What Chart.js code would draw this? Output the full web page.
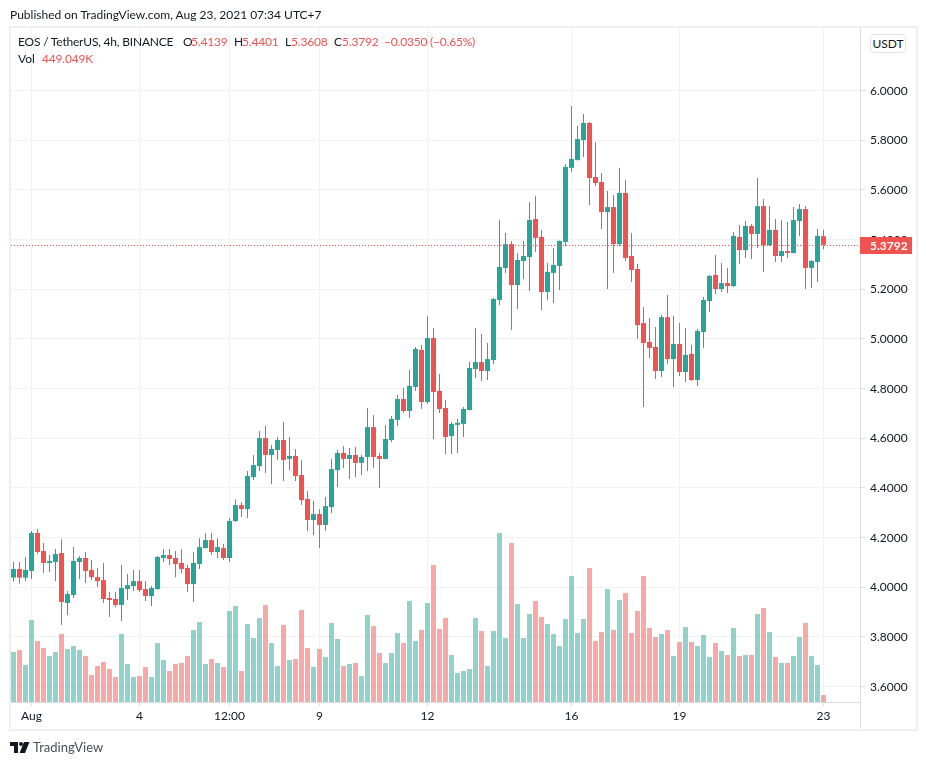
<!DOCTYPE html>
<html>
<head>
<meta charset="utf-8">
<title>EOS / TetherUS</title>
<script src="https://cdn.jsdelivr.net/npm/chart.js@4"></script>
<style>
  html,body{margin:0;padding:0;background:#fff;}
  body{width:926px;height:765px;overflow:hidden;position:relative;font-family:Lato,sans-serif;font-size:12px;color:#131722;}
  canvas{position:absolute;left:0;top:0;}
  .t{position:absolute;white-space:nowrap;line-height:16px;}
  .s{letter-spacing:-.2px;}
  .r{color:#ef5350;letter-spacing:-.2px;}
  #frame{position:absolute;left:9px;top:26px;width:905px;height:701px;border:2px solid #eeeef3;}
  #axisline{position:absolute;left:860px;top:702px;width:1px;height:27px;background:#dcdde2;}
  #usdt{position:absolute;left:870px;top:34px;width:34px;height:17px;line-height:17px;text-align:center;border:1px solid #e0e3eb;border-radius:4px;background:#fff;}
</style>
</head>
<body>
<canvas id="c" width="926" height="765"></canvas>
<div id="frame"></div>
<div id="axisline"></div>
<div id="usdt">USDT</div>
<div class="t" style="left:10px;top:7px">Published on TradingView.com, Aug 23, 2021 07:34 UTC+7</div>
<div class="t s" style="left:18px;top:34px">EOS / TetherUS, 4h, BINANCE</div>
<div class="t" style="left:183px;top:34px">O</div><div class="t r" style="left:191px;top:34px">5.4139</div>
<div class="t" style="left:234px;top:34px">H</div><div class="t r" style="left:242px;top:34px">5.4401</div>
<div class="t" style="left:285px;top:34px">L</div><div class="t r" style="left:291px;top:34px">5.3608</div>
<div class="t" style="left:334px;top:34px">C</div><div class="t r" style="left:342px;top:34px">5.3792</div>
<div class="t r" style="left:384px;top:34px">−0.0350</div>
<div class="t r" style="left:430px;top:34px">(−0.65%)</div>
<div class="t" style="left:18px;top:51px">Vol</div><div class="t r" style="left:42px;top:51px">449.049K</div>
<svg style="position:absolute;left:10px;top:742px" width="20" height="11" viewBox="0 0 20 11">
  <path d="M0 0H8V11H4V4H0Z" fill="#131722"/><circle cx="11" cy="2" r="2" fill="#131722"/><path d="M14 0H19.5L15 11H9.5Z" fill="#131722"/>
</svg>
<div class="t" style="left:33px;top:738px;font-size:13px;line-height:18px;color:#4a4e5a">TradingView</div>
<script>
// EOS/USDT 4h, 1 Aug -> 23 Aug 2021
const opens = [4.039,4.074,4.039,4.066,4.219,4.146,4.098,4.102,4.138,3.937,
  3.969,4.102,4.118,4.070,4.041,4.029,3.957,3.953,3.929,3.993,
  4.005,4.025,3.993,3.965,3.993,4.118,4.130,4.118,4.098,4.078,
  4.013,4.094,4.158,4.190,4.142,4.158,4.118,4.267,4.331,4.315,
  4.444,4.488,4.601,4.533,4.553,4.593,4.517,4.529,4.452,4.356,
  4.271,4.295,4.251,4.323,4.472,4.541,4.517,4.533,4.501,4.525,
  4.645,4.529,4.517,4.593,4.674,4.758,4.710,4.807,4.956,4.746,
  5.004,4.791,4.722,4.609,4.654,4.658,4.714,4.879,4.907,4.871,
  4.915,5.157,5.286,5.382,5.217,5.314,5.330,5.483,5.411,5.189,
  5.266,5.294,5.391,5.689,5.721,5.801,5.870,5.652,5.632,5.511,
  5.531,5.382,5.588,5.334,5.282,5.064,4.988,4.968,4.871,5.088,
  4.919,4.980,4.867,4.940,4.835,5.028,5.153,5.258,5.201,5.225,
  5.213,5.411,5.358,5.455,5.423,5.535,5.378,5.439,5.334,5.354,
  5.346,5.475,5.523,5.286,5.310,5.4139];
const highs = [4.102,4.102,4.122,4.227,4.235,4.178,4.130,4.154,4.194,3.985,
  4.162,4.126,4.142,4.110,4.078,4.098,3.981,3.981,4.090,4.054,
  4.070,4.070,4.025,4.005,4.126,4.154,4.154,4.146,4.154,4.090,
  4.142,4.198,4.219,4.219,4.198,4.174,4.279,4.355,4.343,4.468,
  4.533,4.629,4.650,4.573,4.605,4.666,4.605,4.557,4.513,4.388,
  4.348,4.315,4.364,4.517,4.553,4.569,4.561,4.565,4.533,4.722,
  4.694,4.541,4.653,4.690,4.774,4.803,4.875,4.968,4.976,5.092,
  5.044,4.859,4.754,4.666,4.678,4.726,4.907,5.044,5.020,4.984,
  5.165,5.479,5.427,5.395,5.346,5.395,5.551,5.576,5.439,5.306,
  5.366,5.397,5.705,5.938,5.858,5.906,5.874,5.793,5.668,5.596,
  5.580,5.689,5.640,5.427,5.302,5.129,5.084,5.048,5.097,5.177,
  5.093,5.064,5.044,4.976,5.040,5.169,5.258,5.338,5.306,5.286,
  5.431,5.459,5.475,5.463,5.648,5.564,5.535,5.483,5.479,5.471,
  5.531,5.543,5.535,5.318,5.443,5.4401];
const lows = [4.023,4.015,4.025,4.033,4.135,4.058,4.062,4.025,3.848,3.888,
  3.957,4.033,4.017,4.029,4.001,3.937,3.880,3.920,3.864,3.949,
  3.985,3.981,3.945,3.925,3.990,4.102,4.090,4.041,4.058,3.981,
  3.941,4.074,4.156,4.130,4.118,4.110,4.102,4.263,4.283,4.279,
  4.432,4.468,4.460,4.416,4.513,4.428,4.472,4.428,4.331,4.227,
  4.211,4.158,4.227,4.299,4.404,4.480,4.436,4.444,4.452,4.468,
  4.480,4.400,4.515,4.585,4.650,4.702,4.682,4.791,4.718,4.738,
  4.597,4.702,4.537,4.537,4.541,4.605,4.712,4.843,4.831,4.835,
  4.899,5.137,5.266,5.036,5.121,5.241,5.193,5.350,5.117,5.157,
  5.145,5.197,5.374,5.672,5.719,5.733,5.539,5.616,5.443,5.201,
  5.266,5.374,5.314,5.229,5.000,4.726,4.923,4.839,4.847,4.899,
  4.807,4.851,4.827,4.831,4.811,4.964,5.109,5.181,5.189,5.185,
  5.209,5.302,5.326,5.322,5.366,5.270,5.374,5.310,5.310,5.326,
  5.344,5.415,5.201,5.205,5.229,5.3608];
const closes = [4.074,4.039,4.070,4.219,4.142,4.098,4.106,4.134,3.941,3.973,
  4.106,4.118,4.066,4.041,4.025,3.953,3.949,3.929,3.997,4.009,
  4.025,3.989,3.965,3.997,4.122,4.130,4.114,4.094,4.074,4.013,
  4.098,4.162,4.190,4.142,4.162,4.118,4.267,4.331,4.315,4.448,
  4.492,4.601,4.533,4.557,4.593,4.513,4.529,4.448,4.351,4.271,
  4.295,4.251,4.327,4.476,4.541,4.517,4.533,4.501,4.525,4.645,
  4.525,4.517,4.597,4.678,4.758,4.710,4.811,4.960,4.746,5.004,
  4.786,4.718,4.605,4.658,4.662,4.718,4.883,4.907,4.871,4.919,
  5.161,5.290,5.382,5.217,5.318,5.334,5.479,5.407,5.189,5.270,
  5.298,5.395,5.693,5.725,5.805,5.870,5.648,5.628,5.511,5.531,
  5.382,5.588,5.326,5.278,5.056,4.984,4.964,4.871,5.088,4.919,
  4.980,4.867,4.936,4.835,5.032,5.157,5.254,5.201,5.225,5.213,
  5.415,5.358,5.455,5.423,5.535,5.378,5.439,5.334,5.354,5.346,
  5.479,5.523,5.286,5.314,5.415,5.3792];
// volume in thousands
const volumes = [3207,3335,2373,5259,3913,3464,2950,3207,4362,3399,
  3592,3335,2950,1732,2309,2566,2117,1604,4362,2437,
  1604,1668,2245,1604,3784,2694,1988,2437,2501,2950,
  4618,5131,2437,2758,2501,2245,5837,6157,1988,5003,
  4105,5388,6222,3784,2309,4939,2694,2758,5901,3464,
  2245,3399,2886,5067,4041,2309,2437,2501,1668,5580,
  4875,3143,2501,3143,4426,3784,6478,3913,4618,6350,
  8787,4682,5388,3015,1860,1988,2117,5388,4554,2309,
  4554,10840,4105,10198,6286,4105,5644,6478,5452,5003,
  4362,3592,5324,8082,4426,5324,8595,3913,4490,7248,
  4618,6542,6991,4426,5837,8082,4746,4169,4362,4618,
  2950,3848,4811,3848,3592,4297,2886,3784,3271,3015,
  4746,2950,3015,3015,5644,6029,4490,2886,2501,2501,
  2950,4169,5067,2950,2373,449];

const priceTicks = [3.6,3.8,4.0,4.2,4.4,4.6,4.8,5.0,5.2,5.4,5.6,5.8,6.0];
const timeTickIndex = [3,21,36,51,69,93,111,135];
const timeTickLabels = ["Aug","4","12:00","9","12","16","19","23"];
const lastPrice = 5.3792;

const UP = "#26a69a", DOWN = "#ef5350";
const UP_VOL = "rgba(38,166,154,.5)", DOWN_VOL = "rgba(239,83,80,.5)";
const GRID = "#f1f2f6", AXIS = "#dcdde2", TXT = "#131722";
const FONT = 'Lato, sans-serif';

const isUp = closes.map((c,i) => c >= opens[i]);

// dotted line + red tag on the last price
const lastPricePlugin = {
  id: "lastPrice",
  afterDraw(chart){
    const {ctx, chartArea:a} = chart;
    const y = Math.round(chart.scales.y.getPixelForValue(lastPrice)) + .5;
    ctx.save();
    ctx.strokeStyle = DOWN; ctx.lineWidth = 1; ctx.setLineDash([1,2]);
    ctx.beginPath(); ctx.moveTo(a.left,y); ctx.lineTo(a.right,y); ctx.stroke();
    ctx.setLineDash([]);
    ctx.fillStyle = DOWN;
    ctx.fillRect(a.right, y-8.5, 52, 17);
    ctx.fillStyle = "#fff"; ctx.font = "700 12px "+FONT;
    ctx.textBaseline = "middle"; ctx.textAlign = "left";
    ctx.fillText(lastPrice.toFixed(4), a.right+10, y+.5);
    ctx.restore();
  }
};

new Chart(document.getElementById("c"), {
  type: "bar",
  data: {
    datasets: [
      { label:"body", order:0, grouped:false, barThickness:5, borderWidth:0, inflateAmount:0,
        data: opens.map((o,i) => ({x:i, y:[o,closes[i]]})),
        backgroundColor: isUp.map(u => u?UP:DOWN) },
      { label:"wick", order:1, grouped:false, barThickness:1, borderWidth:0, inflateAmount:0,
        data: lows.map((l,i) => ({x:i, y:[l,highs[i]]})),
        backgroundColor: isUp.map(u => u?UP:DOWN) },
      { label:"Vol", order:2, grouped:false, barThickness:5, borderWidth:0, inflateAmount:0, yAxisID:"vol",
        data: volumes.map((v,i) => ({x:i, y:v})),
        backgroundColor: isUp.map(u => u?UP_VOL:DOWN_VOL) }
    ]
  },
  options: {
    responsive:false, animation:false, devicePixelRatio:1,
    layout:{ padding:{left:11,top:28,right:10,bottom:35} },
    plugins:{ legend:{display:false}, tooltip:{enabled:false} },
    scales:{
      x:{ type:"linear", min:-2.5/6, max:846.5/6, offset:false,
        afterBuildTicks: s => { s.ticks = timeTickIndex.map(v => ({value:v})); },
        afterFit: s => { s.height = 28; },
        grid:{ color:GRID, tickColor:AXIS, tickLength:4, offset:false },
        border:{ color:AXIS },
        ticks:{ autoSkip:false, maxRotation:0, padding:3, color:TXT, font:{family:FONT,size:12},
          callback:(v,i) => timeTickLabels[i] }
      },
      y:{ position:"right", min:3.5382, max:6.2522,
        afterBuildTicks: s => { s.ticks = priceTicks.map(v => ({value:v})); },
        afterFit: s => { s.width = 56; },
        grid:{ color:GRID, tickColor:AXIS, tickLength:5 },
        border:{ color:AXIS },
        ticks:{ padding:5, color:TXT, font:{family:FONT,size:12}, callback:v => v.toFixed(4) }
      },
      vol:{ display:false, min:0, max:43230 }
    }
  },
  plugins:[lastPricePlugin]
});
</script>
</body>
</html>
